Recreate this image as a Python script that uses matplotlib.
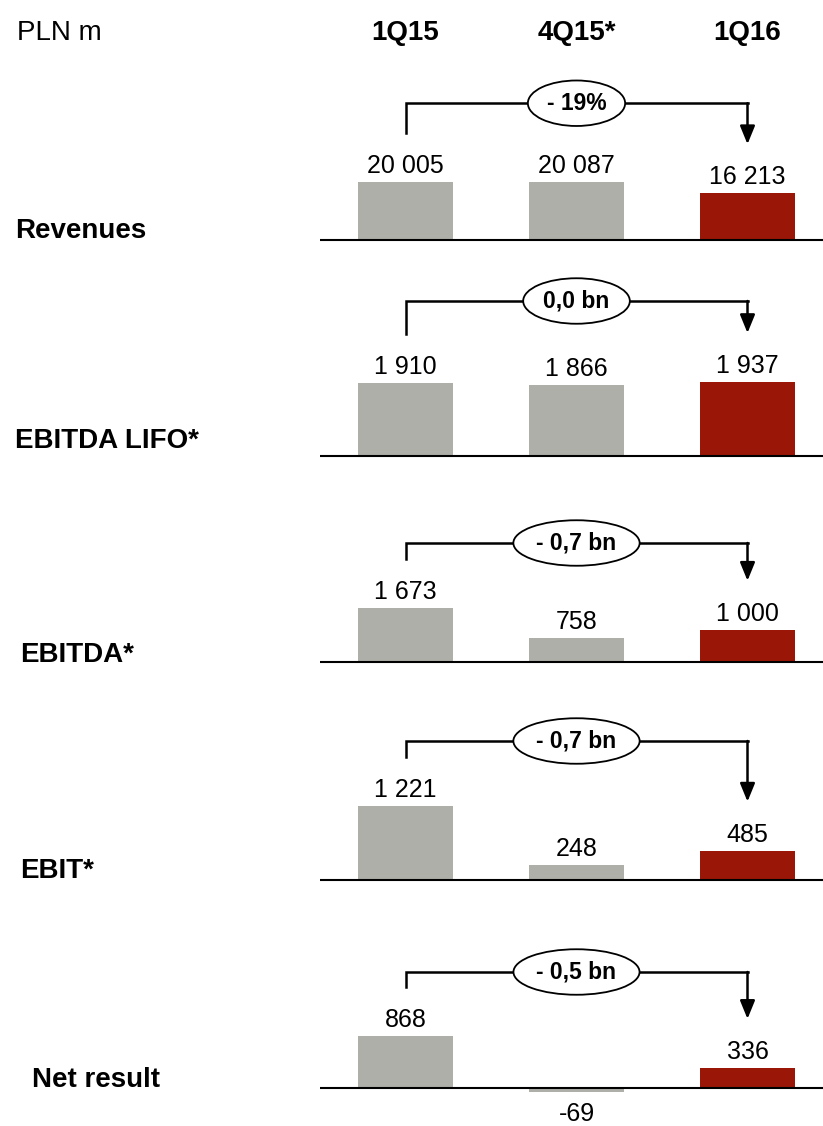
import matplotlib.pyplot as plt
import matplotlib.transforms as mtransforms

# Data (PLN m)
periods = ['1Q15', '4Q15*', '1Q16']
metrics = ['Revenues', 'EBITDA LIFO*', 'EBITDA*', 'EBIT*', 'Net result']
revenues = [20005, 20087, 16213]
ebitda_lifo = [1910, 1866, 1937]
ebitda = [1673, 758, 1000]
ebit = [1221, 248, 485]
net_result = [868, -69, 336]
changes = ['- 19%', '0,0 bn', '- 0,7 bn', '- 0,7 bn', '- 0,5 bn']

rows = [revenues, ebitda_lifo, ebitda, ebit, net_result]

# layout in pixels of the 823x1126 picture
W, H = 823, 1126
baselines = [240, 456, 662, 880, 1088]
max_bar_px = [58, 74, 54, 74, 52]
label_x = [15, 15, 20, 20, 32]
label_base = [238, 448, 662, 878, 1087]
bracket_gap = [30, 32, 16, 16, 15]
x_left, x_right = 320, 823
x0_px, step_px = 405.5, 171

grey = '#AFAFAA'
red = '#9A1606'
bar_colors = [grey, grey, red]
plt.rcParams['font.family'] = ['Liberation Sans', 'DejaVu Sans']

fig = plt.figure(figsize=(W / 100, H / 100), dpi=100)

for i, vals in enumerate(rows):
    base = baselines[i]
    scale = max_bar_px[i] / max(vals)  # px per unit
    below, above = 45, 185
    ax = fig.add_axes([x_left / W, 1 - (base + below) / H,
                       (x_right - x_left) / W, (below + above) / H])
    ax.set_xlim((x_left - x0_px) / step_px, (x_right - x0_px) / step_px)
    ax.set_ylim(-below / scale, above / scale)
    ax.axis('off')

    xs = list(range(len(vals)))
    ax.bar(xs, vals, width=95 / step_px, color=bar_colors, zorder=2)
    ax.axhline(0, color='black', lw=1.5, zorder=3)

    for x, v in zip(xs, vals):
        txt = f"{v:,}".replace(',', ' ')
        if v >= 0:
            ax.annotate(txt, (x, v), xytext=(0, 6.5), textcoords='offset points',
                        ha='center', va='baseline', fontsize=18)
        else:
            ax.annotate(txt, (x, v), xytext=(0, -7), textcoords='offset points',
                        ha='center', va='top', fontsize=18)

    # bracket from first to last period
    left_end = (max(vals[0], 0) * scale + 49) / scale
    tip = (max(vals[2], 0) * scale + 49) / scale
    top = max(left_end, tip) + bracket_gap[i] / scale
    ax.plot([0, 0, 2], [left_end, top, top], color='black', lw=1.8,
            solid_joinstyle='miter', zorder=3)
    ax.annotate('', xy=(2, tip), xytext=(2, top),
                arrowprops=dict(arrowstyle='-|>,head_length=1.1,head_width=0.45',
                                lw=1.8, color='black', shrinkA=0, shrinkB=0),
                zorder=3)
    ax.text(1, top, changes[i], ha='center', va='center', fontsize=16.5,
            fontweight='bold', zorder=5,
            bbox=dict(boxstyle='ellipse,pad=0.2', fc='white', ec='black', lw=1.3))

    fig.text(label_x[i] / W, 1 - label_base[i] / H, metrics[i],
             ha='left', va='baseline', fontsize=20, fontweight='bold')

    if i == 0:
        trans = mtransforms.blended_transform_factory(ax.transData, fig.transFigure)
        for x, p in enumerate(periods):
            ax.text(x, 1 - 40 / H, p, transform=trans, ha='center', va='baseline',
                    fontsize=20, fontweight='bold')

fig.text(17 / W, 1 - 40 / H, 'PLN m', ha='left', va='baseline', fontsize=20)

fig.savefig('out.png', dpi=100)
